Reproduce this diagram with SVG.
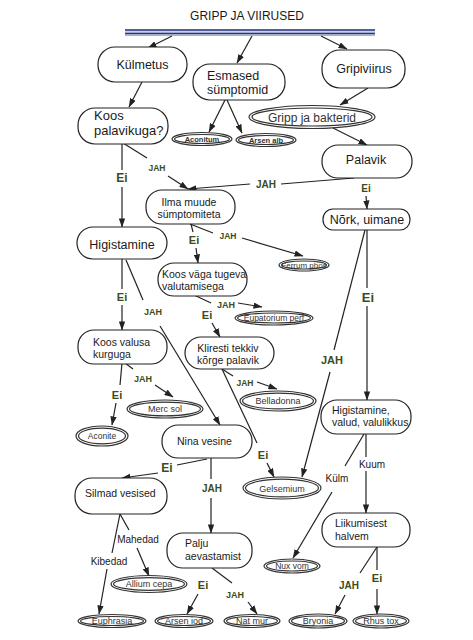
<svg xmlns="http://www.w3.org/2000/svg" width="473" height="640" viewBox="0 0 473 640">
<defs>
<marker id="ah" viewBox="0 0 10 7" markerWidth="9" markerHeight="6.3" refX="9.5" refY="3.5" orient="auto" markerUnits="userSpaceOnUse">
<path d="M0,0 L10,3.5 L0,7 z" fill="#222"/>
</marker>
<style>
.n rect{fill:#fff;stroke:#222;stroke-width:1.2}
.t{font-family:"Liberation Sans",Arial,sans-serif;fill:#1a1a1a}
.big{font-size:12.5px}
.sm{font-size:10.5px}
.r ellipse{fill:#fff;stroke:#333;stroke-width:1.2}
.r text{font-family:"Liberation Sans",Arial,sans-serif;fill:#333;text-anchor:middle}
.c line{stroke:#222;stroke-width:1.2;fill:none}
.c .a{marker-end:url(#ah)}
.j{font-family:"Liberation Sans",Arial,sans-serif;font-weight:bold;fill:#3a4d1a;text-anchor:middle}
.p{font-family:"Liberation Sans",Arial,sans-serif;font-size:10px;fill:#1a1a1a;text-anchor:middle}
</style>
</defs>
<rect width="473" height="640" fill="#fff"/>
<g id="title">
<text x="247" y="20" class="t" font-size="12" text-anchor="middle">GRIPP JA VIIRUSED</text>
<rect x="125" y="29.5" width="250" height="5.5" fill="#c9d2ea"/>
<line x1="125" y1="30" x2="375" y2="30" stroke="#2a357c" stroke-width="1.3"/>
<line x1="125" y1="33.5" x2="375" y2="33.5" stroke="#2a357c" stroke-width="1.3"/>
<line x1="125" y1="35.5" x2="375" y2="35.5" stroke="#9aa0b0" stroke-width="0.8"/>
</g>
<g class="c" id="connectors">
<line class="a" x1="172" y1="36" x2="148" y2="48"/>
<line class="a" x1="252" y1="36" x2="237" y2="63"/>
<line class="a" x1="321" y1="36" x2="347" y2="49"/>
<line class="a" x1="142" y1="82" x2="129" y2="107"/>
<line class="a" x1="225" y1="100" x2="209" y2="132"/>
<line class="a" x1="227" y1="100" x2="242" y2="133"/>
<line class="a" x1="368" y1="88" x2="340" y2="105"/>
<line class="a" x1="333" y1="128" x2="367" y2="145"/>
<line x1="354" y1="178" x2="281" y2="184"/>
<line class="a" x1="250" y1="184" x2="188" y2="189"/>
<line class="a" x1="366" y1="196" x2="367" y2="209"/>
<line x1="123" y1="143" x2="147" y2="158"/>
<line class="a" x1="168" y1="176" x2="188" y2="189"/>
<line x1="122" y1="144" x2="122" y2="170"/>
<line class="a" x1="122" y1="187" x2="122" y2="227"/>
<line x1="190" y1="224" x2="213" y2="233"/>
<line class="a" x1="242" y1="238" x2="303" y2="256"/>
<line x1="191" y1="224" x2="193" y2="232"/>
<line class="a" x1="196" y1="248" x2="198" y2="263"/>
<line x1="122" y1="259" x2="122" y2="289"/>
<line class="a" x1="122" y1="305" x2="122" y2="330"/>
<line x1="126" y1="260" x2="143" y2="300"/>
<line class="a" x1="160" y1="326" x2="220" y2="425"/>
<line x1="194" y1="295" x2="211" y2="303"/>
<line class="a" x1="238" y1="303" x2="262" y2="307"/>
<line class="a" x1="212" y1="323" x2="220" y2="337"/>
<line x1="125" y1="363" x2="133" y2="369"/>
<line class="a" x1="155" y1="385" x2="173" y2="397"/>
<line x1="122" y1="363" x2="120" y2="385"/>
<line class="a" x1="116" y1="403" x2="112" y2="425"/>
<line x1="222" y1="369" x2="233" y2="376"/>
<line class="a" x1="257" y1="382" x2="277" y2="389"/>
<line x1="222" y1="369" x2="257" y2="443"/>
<line class="a" x1="267" y1="463" x2="274" y2="477"/>
<line x1="365" y1="230" x2="334" y2="350"/>
<line class="a" x1="330" y1="372" x2="302" y2="477"/>
<line x1="367" y1="230" x2="367" y2="288"/>
<line class="a" x1="367" y1="306" x2="367" y2="400"/>
<line x1="366" y1="434" x2="366" y2="457"/>
<line class="a" x1="366" y1="471" x2="366" y2="513"/>
<line x1="364" y1="434" x2="345" y2="466"/>
<line class="a" x1="332" y1="492" x2="293" y2="558"/>
<line x1="207" y1="459" x2="177" y2="465"/>
<line class="a" x1="158" y1="473" x2="122" y2="478"/>
<line x1="211" y1="458" x2="211" y2="479"/>
<line class="a" x1="211" y1="498" x2="211" y2="533"/>
<line x1="120" y1="514" x2="129" y2="530"/>
<line class="a" x1="137" y1="548" x2="149" y2="576"/>
<line x1="120" y1="514" x2="112" y2="553"/>
<line class="a" x1="107" y1="569" x2="99" y2="614"/>
<line class="a" x1="198" y1="594" x2="187" y2="614"/>
<line x1="212" y1="568" x2="232" y2="583"/>
<line class="a" x1="248" y1="602" x2="257" y2="614"/>
<line x1="377" y1="547" x2="360" y2="573"/>
<line class="a" x1="345" y1="595" x2="335" y2="614"/>
<line x1="377" y1="547" x2="377" y2="570"/>
<line class="a" x1="377" y1="589" x2="377" y2="614"/>
<text class="j" x="266" y="188" font-size="10">JAH</text>
<text class="j" x="366" y="192" font-size="10">Ei</text>
<text class="j" x="157" y="171" font-size="8.5">JAH</text>
<text class="j" x="122" y="182" font-size="12">Ei</text>
<text class="j" x="228" y="239" font-size="8.5">JAH</text>
<text class="j" x="194" y="244" font-size="11">Ei</text>
<text class="j" x="122" y="301" font-size="11">Ei</text>
<text class="j" x="153" y="315" font-size="9">JAH</text>
<text class="j" x="226" y="308" font-size="9">JAH</text>
<text class="j" x="207" y="319" font-size="11">Ei</text>
<text class="j" x="143" y="382" font-size="9">JAH</text>
<text class="j" x="117" y="399" font-size="11">Ei</text>
<text class="j" x="245" y="386" font-size="8.5">JAH</text>
<text class="j" x="263" y="459" font-size="11">Ei</text>
<text class="j" x="332" y="364" font-size="11">JAH</text>
<text class="j" x="368" y="302" font-size="13">Ei</text>
<text class="j" x="167" y="472" font-size="12">Ei</text>
<text class="j" x="212" y="492" font-size="10">JAH</text>
<text class="j" x="203" y="589" font-size="11">Ei</text>
<text class="j" x="235" y="598" font-size="9">JAH</text>
<text class="j" x="349" y="589" font-size="10">JAH</text>
<text class="j" x="377" y="582" font-size="11">Ei</text>
<text class="p" x="372" y="468">Kuum</text>
<text class="p" x="337" y="482">Külm</text>
<text class="p" x="138" y="543">Mahedad</text>
<text class="p" x="109" y="565">Kibedad</text>
</g>
<g id="kulmetus" class="n"><rect x="98" y="47" width="89" height="35" rx="17"/><text class="t big" x="142.5" y="69" text-anchor="middle">Külmetus</text></g>
<g id="esmased" class="n"><rect x="193" y="64" width="92" height="36" rx="17"/><text class="t big" x="207" y="80">Esmased</text><text class="t big" x="207" y="94">sümptomid</text></g>
<g id="gripiviirus" class="n"><rect x="322" y="50" width="83" height="38" rx="18"/><text class="t big" x="364" y="73" text-anchor="middle">Gripiviirus</text></g>
<g id="koos-palavikuga" class="n"><rect x="78" y="108" width="90" height="36" rx="17"/><text class="t" font-size="13" x="94" y="120">Koos</text><text class="t" font-size="13" x="94" y="134.5">palavikuga?</text></g>
<g id="palavik" class="n"><rect x="322" y="145" width="90" height="33" rx="16"/><text class="t big" x="366" y="163.5" text-anchor="middle">Palavik</text></g>
<g id="nork" class="n"><rect x="323" y="209" width="87" height="21" rx="10"/><text class="t big" x="367" y="224" text-anchor="middle">Nõrk, uimane</text></g>
<g id="ilma" class="n"><rect x="146" y="190" width="89" height="34" rx="16"/><text class="t sm" x="189" y="205.5" text-anchor="middle">Ilma muude</text><text class="t sm" x="189" y="217.5" text-anchor="middle">sümptomiteta</text></g>
<g id="higistamine" class="n"><rect x="77" y="227" width="90" height="32" rx="16"/><text class="t big" x="122" y="249" text-anchor="middle">Higistamine</text></g>
<g id="koos-vaga" class="n"><rect x="158" y="263" width="89" height="33" rx="16"/><text class="t sm" x="162" y="278">Koos väga tugeva</text><text class="t sm" x="162" y="290">valutamisega</text></g>
<g id="kliresti" class="n"><rect x="185" y="337" width="89" height="32" rx="16"/><text class="t sm" x="228" y="351.5" text-anchor="middle">Kliresti tekkiv</text><text class="t sm" x="228" y="364" text-anchor="middle">kõrge palavik</text></g>
<g id="koos-valusa" class="n"><rect x="78" y="330" width="89" height="34" rx="16"/><text class="t sm" x="93" y="345.5">Koos valusa</text><text class="t sm" x="93" y="358">kurguga</text></g>
<g id="higistamine-valud" class="n"><rect x="321" y="400" width="90" height="34" rx="16"/><text class="t sm" x="332" y="413.5">Higistamine,</text><text class="t sm" x="332" y="426">valud, valulikkus</text></g>
<g id="nina" class="n"><rect x="162" y="425" width="90" height="33" rx="16"/><text class="t sm" x="177" y="445">Nina vesine</text></g>
<g id="silmad" class="n"><rect x="75" y="478" width="92" height="36" rx="17"/><text class="t sm" x="85" y="497">Silmad vesised</text></g>
<g id="palju" class="n"><rect x="167" y="533" width="85" height="35" rx="16"/><text class="t sm" x="185" y="547">Palju</text><text class="t sm" x="185" y="560">aevastamist</text></g>
<g id="liikumisest" class="n"><rect x="322" y="513" width="88" height="34" rx="16"/><text class="t sm" x="335" y="527">Liikumisest</text><text class="t sm" x="335" y="539.5">halvem</text></g>
<g id="gripp-bakterid" class="r"><ellipse cx="312" cy="117" rx="63" ry="11.5"/><ellipse cx="312" cy="117" rx="60" ry="9"/><text x="312" y="121.5" font-size="12" fill="#1a1a1a">Gripp ja bakterid</text></g>
<g id="aconitum" class="r"><ellipse cx="202" cy="139" rx="30" ry="6.5"/><ellipse cx="202" cy="139" rx="27.5" ry="4.5"/><text x="202" y="141.8" font-size="7.5" font-weight="bold" fill="#222">Aconitum</text></g>
<g id="arsen-alb" class="r"><ellipse cx="266" cy="140" rx="30" ry="6.5"/><ellipse cx="266" cy="140" rx="27.5" ry="4.5"/><text x="266" y="142.8" font-size="7.5" font-weight="bold" fill="#222">Arsen  alb</text></g>
<g id="ferrum" class="r"><ellipse cx="304" cy="265" rx="25" ry="6"/><ellipse cx="304" cy="265" rx="22.5" ry="4"/><text x="304" y="268" font-size="8">Ferrum phos</text></g>
<g id="eupatorium" class="r"><ellipse cx="274" cy="318" rx="39" ry="7"/><ellipse cx="274" cy="318" rx="36.5" ry="5"/><text x="274" y="321.2" font-size="8.5">Eupatorium perf</text></g>
<g id="merc" class="r"><ellipse cx="165" cy="409" rx="38" ry="9"/><ellipse cx="165" cy="409" rx="35.5" ry="6.8"/><text x="165" y="412.2" font-size="9">Merc sol</text></g>
<g id="aconite" class="r"><ellipse cx="102" cy="436" rx="26" ry="10"/><ellipse cx="102" cy="436" rx="23.5" ry="7.8"/><text x="102" y="439" font-size="8.5">Aconite</text></g>
<g id="belladonna" class="r"><ellipse cx="278" cy="401" rx="38" ry="10"/><ellipse cx="278" cy="401" rx="35.5" ry="7.8"/><text x="278" y="404.2" font-size="9">Belladonna</text></g>
<g id="gelsemium" class="r"><ellipse cx="282" cy="488" rx="39" ry="11"/><ellipse cx="282" cy="488" rx="36.5" ry="8.8"/><text x="282" y="491.5" font-size="9">Gelsemium</text></g>
<g id="nux" class="r"><ellipse cx="292" cy="566" rx="28" ry="7"/><ellipse cx="292" cy="566" rx="25.5" ry="5"/><text x="292" y="569.2" font-size="8.5">Nux vom</text></g>
<g id="allium" class="r"><ellipse cx="149" cy="584" rx="38" ry="8.5"/><ellipse cx="149" cy="584" rx="35.5" ry="6.3"/><text x="149" y="587.2" font-size="9">Allium cepa</text></g>
<g id="euphrasia" class="r"><ellipse cx="112" cy="621" rx="34" ry="6.5"/><ellipse cx="112" cy="621" rx="31.5" ry="4.5"/><text x="112" y="624.2" font-size="9">Euphrasia</text></g>
<g id="arsen-iod" class="r"><ellipse cx="184" cy="621" rx="29" ry="6.5"/><ellipse cx="184" cy="621" rx="26.5" ry="4.5"/><text x="184" y="624.2" font-size="9">Arsen iod</text></g>
<g id="nat-mur" class="r"><ellipse cx="252" cy="621" rx="28" ry="6.5"/><ellipse cx="252" cy="621" rx="25.5" ry="4.5"/><text x="252" y="624.2" font-size="9">Nat mur</text></g>
<g id="bryonia" class="r"><ellipse cx="318" cy="621" rx="29" ry="7"/><ellipse cx="318" cy="621" rx="26.5" ry="5"/><text x="318" y="624.2" font-size="9">Bryonia</text></g>
<g id="rhus" class="r"><ellipse cx="381" cy="621" rx="28" ry="7"/><ellipse cx="381" cy="621" rx="25.5" ry="5"/><text x="381" y="624.2" font-size="9">Rhus tox</text></g>
</svg>
